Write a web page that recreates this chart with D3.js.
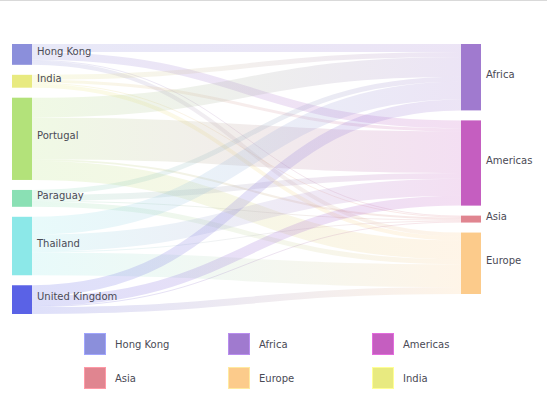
<!DOCTYPE html>
<html>
<head>
<meta charset="utf-8">
<script src="https://cdn.jsdelivr.net/npm/d3@7"></script>
<style>
  html, body { margin: 0; padding: 0; background: #fff; }
  svg { display: block; font-family: "DejaVu Sans", Verdana, sans-serif; }
</style>
</head>
<body>
<svg id="chart" width="547" height="397"></svg>
<script>
// ---- data ----
const sources = ["Hong Kong", "India", "Portugal", "Paraguay", "Thailand", "United Kingdom"];
const targets = ["Africa", "Americas", "Asia", "Europe"];
// flows: rows = sources, columns = targets
const flowHongKong = [8, 8, 1, 4];
const flowIndia = [5, 3, 1, 4];
const flowPortugal = [20, 42, 2, 19];
const flowParaguay = [5, 6, 1, 5];
const flowThailand = [18, 17, 1, 23];
const flowUnitedKingdom = [11, 10, 1, 7];
const flows = [flowHongKong, flowIndia, flowPortugal, flowParaguay, flowThailand, flowUnitedKingdom];
const legendItems = ["Hong Kong", "Africa", "Americas", "Asia", "Europe", "India"];
const nodeColors = {
  "Hong Kong": "#8b8fdb",
  "India": "#e8ea80",
  "Portugal": "#b3e27a",
  "Paraguay": "#8ae0b4",
  "Thailand": "#8ce8e8",
  "United Kingdom": "#5a62e6",
  "Africa": "#a07acf",
  "Americas": "#c55ec0",
  "Asia": "#e08590",
  "Europe": "#fccb8b"
};

// ---- layout ----
const svg = d3.select("#chart");
svg.append("line").attr("x1", 0).attr("x2", 547).attr("y1", 0.5).attr("y2", 0.5)
  .attr("stroke", "#d9d9d9").attr("stroke-width", 1);

const nodeWidth = 20, pad = 10;
const xCol = d3.scaleLinear().domain([0, 1]).range([12, 461]);
const yTop = 44, yBottom = 314;

const links = [];
sources.forEach((s, i) => targets.forEach((t, j) => {
  if (flows[i][j] > 0) links.push({ source: s, target: t, value: flows[i][j] });
}));

const srcTotals = sources.map((s, i) => d3.sum(flows[i]));
const tgtTotals = targets.map((t, j) => d3.sum(flows, r => r[j]));
const k = Math.min(
  (yBottom - yTop - (sources.length - 1) * pad) / d3.sum(srcTotals),
  (yBottom - yTop - (targets.length - 1) * pad) / d3.sum(tgtTotals)
);
const vScale = d3.scaleLinear().domain([0, 1]).range([0, k]);

const nodes = {};
function stack(names, totals, col) {
  let y = yTop;
  names.forEach((n, i) => {
    const h = vScale(totals[i]);
    nodes[n] = { name: n, x0: xCol(col), x1: xCol(col) + nodeWidth, y0: y, y1: y + h, col };
    y += h + pad;
  });
}
stack(sources, srcTotals, 0);
stack(targets, tgtTotals, 1);

// link offsets: at source ordered by target order; at target ordered by source order
const srcOff = {}, tgtOff = {};
sources.forEach(s => srcOff[s] = nodes[s].y0);
targets.forEach(t => tgtOff[t] = nodes[t].y0);
sources.forEach(s => targets.forEach(t => {
  const l = links.find(d => d.source === s && d.target === t);
  if (l) { l.width = vScale(l.value); l.y0 = srcOff[s] + l.width / 2; srcOff[s] += l.width; }
}));
targets.forEach(t => sources.forEach(s => {
  const l = links.find(d => d.source === s && d.target === t);
  if (l) { l.y1 = tgtOff[t] + l.width / 2; tgtOff[t] += l.width; }
}));

const defs = svg.append("defs");
const linkPath = d3.linkHorizontal()
  .source(d => [nodes[d.source].x1, d.y0])
  .target(d => [nodes[d.target].x0, d.y1]);

const lg = svg.append("g").attr("fill", "none");
links.forEach((l, i) => {
  const id = "grad" + i;
  const g = defs.append("linearGradient").attr("id", id)
    .attr("gradientUnits", "userSpaceOnUse")
    .attr("x1", nodes[l.source].x1).attr("x2", nodes[l.target].x0);
  g.append("stop").attr("offset", "0%").attr("stop-color", nodeColors[l.source]);
  g.append("stop").attr("offset", "100%").attr("stop-color", nodeColors[l.target]);
  lg.append("path").datum(l)
    .attr("d", linkPath)
    .attr("stroke", `url(#${id})`)
    .attr("stroke-opacity", 0.2)
    .attr("stroke-width", Math.max(1, l.width));
});

const ng = svg.append("g");
Object.values(nodes).forEach(n => {
  ng.append("rect")
    .attr("x", n.x0).attr("y", n.y0)
    .attr("width", n.x1 - n.x0).attr("height", Math.max(1, n.y1 - n.y0))
    .attr("fill", nodeColors[n.name]);
  ng.append("text")
    .attr("x", n.x1 + 5).attr("y", (n.y0 + n.y1) / 2 - 3)
    .attr("dy", "0.35em")
    .attr("font-size", 10)
    .attr("fill", "#4a4a55")
    .text(n.name);
});

// ---- legend ----
const legX = d3.scalePoint().domain([0, 1, 2]).range([84, 372]);
const legY = d3.scalePoint().domain([0, 1]).range([333, 367]);
const leg = svg.append("g");
legendItems.forEach((name, i) => {
  const c = i % 3, r = Math.floor(i / 3);
  const g = leg.append("g").attr("transform", `translate(${legX(c)},${legY(r)})`);
  g.append("rect").attr("x", 0.5).attr("y", 0.5).attr("width", 21).attr("height", 21)
    .attr("fill", nodeColors[name])
    .attr("stroke", d3.color(nodeColors[name]).brighter(0.4))
    .attr("stroke-width", 1);
  g.append("text").attr("x", 31).attr("y", 11).attr("dy", "0.35em")
    .attr("font-size", 10).attr("fill", "#4a4a55").text(name);
});
</script>
</body>
</html>
